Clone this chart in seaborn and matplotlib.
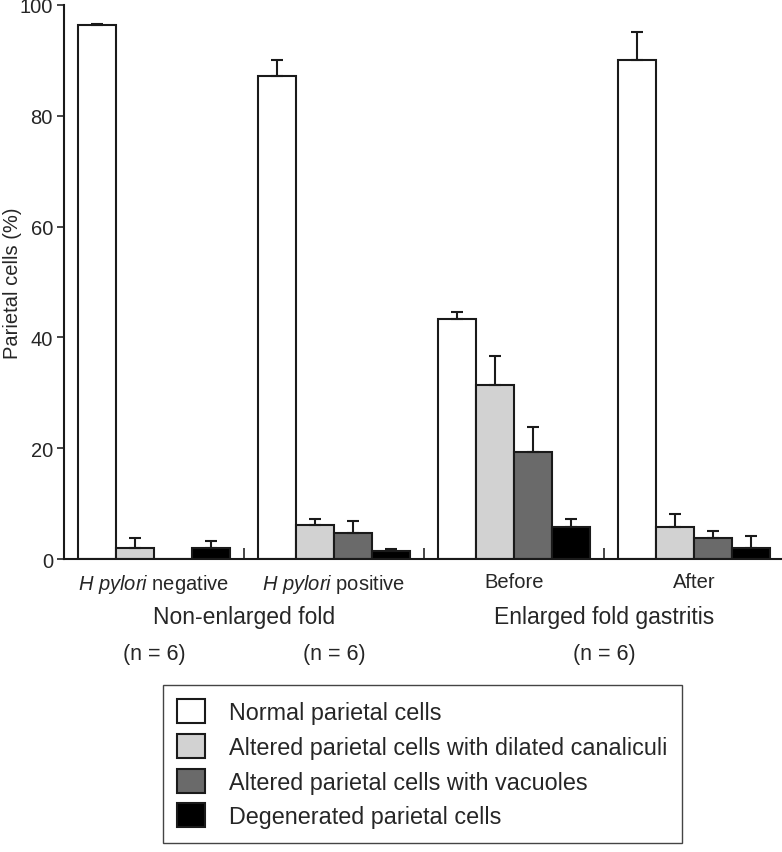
import matplotlib
matplotlib.use("Agg")
import matplotlib.pyplot as plt
import matplotlib.transforms as mtransforms
import numpy as np
import pandas as pd
import seaborn as sns

# ---- data ----
categories = ["H pylori negative", "H pylori positive", "Before", "After"]
tick_labels = [r"$\mathit{H\ pylori}$ negative", r"$\mathit{H\ pylori}$ positive", "Before", "After"]
cell_types = ["Normal parietal cells",
              "Altered parietal cells with dilated canaliculi",
              "Altered parietal cells with vacuoles",
              "Degenerated parietal cells"]
normal = [96.3, 87.2, 43.3, 90.1]
dilated = [1.9, 6.1, 31.4, 5.7]
vacuoles = [0.0, 4.7, 19.3, 3.85]
degenerated = [2.0, 1.5, 5.7, 1.9]
normal_err = [0.3, 2.9, 1.2, 5.1]
dilated_err = [1.9, 1.2, 5.2, 2.4]
vacuoles_err = [np.nan, 2.2, 4.6, 1.2]
degenerated_err = [1.2, 0.3, 1.6, 2.2]
group_labels = ["Non-enlarged fold", "Enlarged fold gastritis"]
n_labels = ["(n = 6)", "(n = 6)", "(n = 6)"]
colors = ["#ffffff", "#d2d2d2", "#6a6a6a", "#000000"]

values = [normal, dilated, vacuoles, degenerated]
errors = [normal_err, dilated_err, vacuoles_err, degenerated_err]
rows = []
for t, vals in zip(cell_types, values):
    for c, v in zip(categories, vals):
        rows.append({"group": c, "type": t, "value": v})
df = pd.DataFrame(rows)

sns.set_style("ticks")
plt.rcParams["font.family"] = ["Liberation Sans", "DejaVu Sans"]
plt.rcParams["mathtext.fontset"] = "custom"
plt.rcParams["mathtext.it"] = "Liberation Sans:italic"
plt.rcParams["mathtext.rm"] = "Liberation Sans"

W, H = 782, 853
fig = plt.figure(figsize=(W / 100, H / 100), dpi=100)
ax = fig.add_axes([64 / W, 1 - 560 / H, (W - 64) / W, 554 / H])

sns.barplot(data=df, x="group", y="value", hue="type", order=categories,
            hue_order=cell_types, palette=colors, width=0.845, errorbar=None,
            edgecolor="#1a1a1a", linewidth=1.5, saturation=1, ax=ax)

# upward-only error bars from the bar geometry
for cont, errs in zip(ax.containers, errors):
    for bar, e in zip(cont, errs):
        if np.isnan(e):
            continue
        xc = bar.get_x() + bar.get_width() / 2
        top = bar.get_height()
        ax.errorbar(xc, top, yerr=[[0], [e]], fmt="none", ecolor="#1a1a1a",
                    elinewidth=1.5, capsize=4.3, capthick=1.5, zorder=1)

ax.set_ylim(0, 100)
ax.set_xlim(-0.5, -0.5 + (W - 64) / 180)
ax.set_yticks([0, 20, 40, 60, 80, 100])
ax.tick_params(axis="y", direction="out", length=5, width=1.2, labelsize=14.5, pad=3)
ax.set_xticks(range(len(categories)))
ax.set_xticklabels(tick_labels, fontsize=14.5)
ax.tick_params(axis="x", length=0, pad=9)
ax.set_xticks([0.5, 1.5, 2.5], minor=True)
ax.tick_params(axis="x", which="minor", direction="in", length=8, width=1.2)
ax.set_xlabel("")
ax.set_ylabel("Parietal cells (%)", fontsize=14.5)
ax.yaxis.set_label_coords((22 - 64) / (W - 64), 0.5)
sns.despine(ax=ax)
for s in ["left", "bottom"]:
    ax.spines[s].set_linewidth(1.5)
    ax.spines[s].set_color("#1a1a1a")

trans = mtransforms.blended_transform_factory(ax.transData, fig.transFigure)
for x, lab in zip([0.5, 2.5], group_labels):
    ax.text(x, 1 - 618 / H, lab, transform=trans, ha="center", va="center", fontsize=16.5)
for x, lab in zip([0, 1, 2.5], n_labels):
    ax.text(x, 1 - 655 / H, lab, transform=trans, ha="center", va="center", fontsize=15.5)

handles, labels = ax.get_legend_handles_labels()
ax.legend(handles, labels, loc="upper left", bbox_to_anchor=(163 / W, 1 - 686 / H),
          bbox_transform=fig.transFigure, fontsize=16.8, frameon=True, fancybox=False,
          edgecolor="#444444", framealpha=1, handlelength=1.2, handleheight=1.2,
          handletextpad=1.0, labelspacing=0.42, borderpad=0.62, borderaxespad=0)
ax.get_legend().get_frame().set_linewidth(1.0)

fig.savefig("out.png", dpi=100)
